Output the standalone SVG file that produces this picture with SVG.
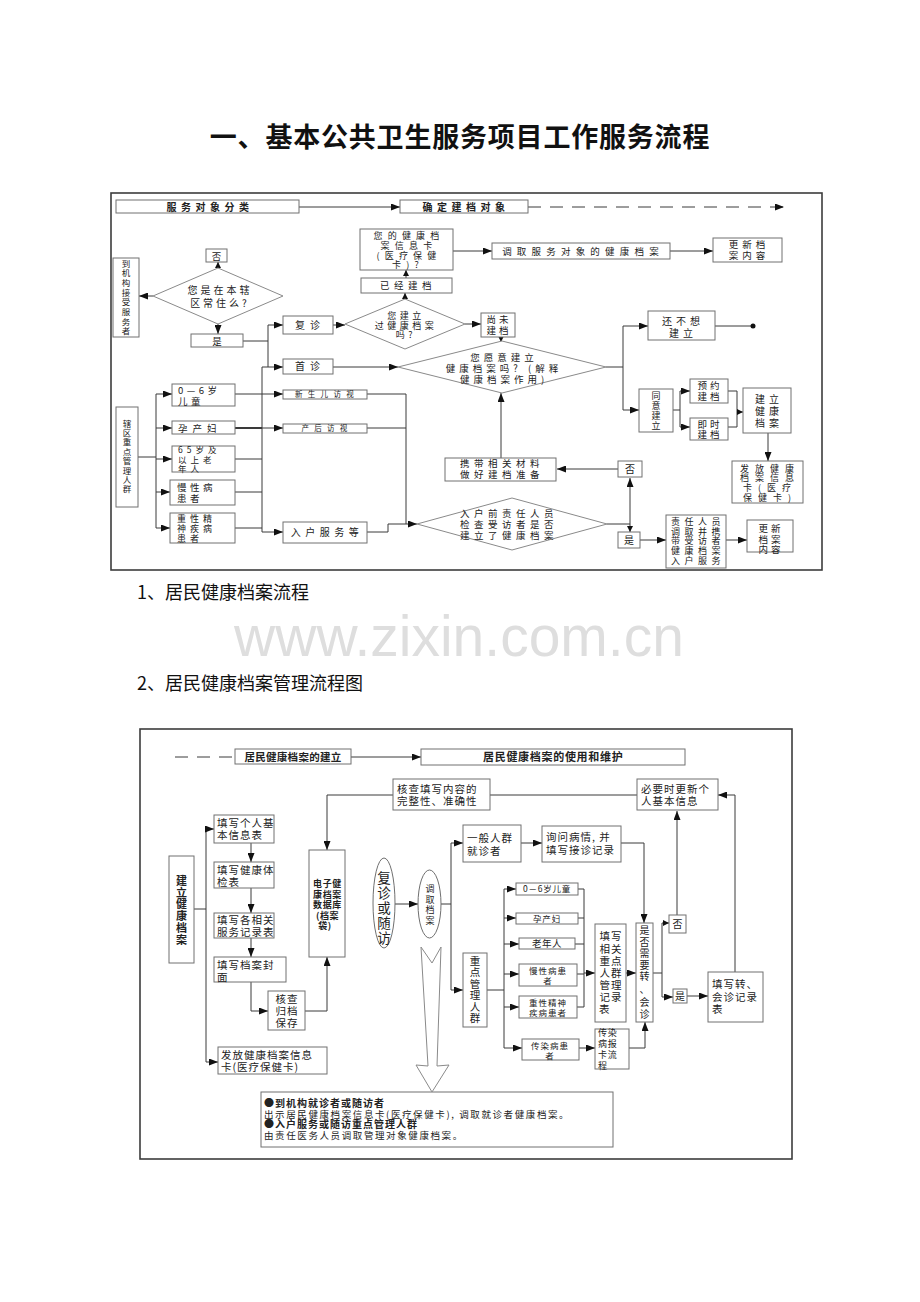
<svg xmlns="http://www.w3.org/2000/svg" width="920" height="1302" viewBox="0 0 920 1302">
<defs>
<style>
.box{fill:#fff;stroke:#707070;stroke-width:1}
.dia{fill:#fff;stroke:#8a8a8a;stroke-width:1}
.cn line,.cn polyline{stroke:#3a3a3a;stroke-width:1;fill:none}
.t{font-family:"Noto Sans CJK SC","Noto Sans",sans-serif;font-size:9.5px;fill:#222;letter-spacing:4.5px}
.c{text-anchor:middle}
.bd{font-weight:bold}
.s8{font-size:7.5px;letter-spacing:5.3px}
.u{font-size:10.5px;letter-spacing:1px}
.v{letter-spacing:0}
.frame{fill:none;stroke:#3c3c3c;stroke-width:1.6}
</style>
<marker id="ah" markerUnits="userSpaceOnUse" markerWidth="9" markerHeight="7" refX="9" refY="3.5" orient="auto"><path d="M0,0 L9,3.5 L0,7 z" fill="#111"/></marker>
<marker id="as" markerUnits="userSpaceOnUse" markerWidth="6" markerHeight="6" refX="6" refY="3" orient="auto"><path d="M0,0 L6,3 L0,6 z" fill="#111"/></marker>
</defs>
<rect width="920" height="1302" fill="#fff"/>

<text id="title" class="t c bd" x="460" y="147" style="font-size:27px;letter-spacing:0.8px;fill:#111">一、基本公共卫生服务项目工作服务流程</text>

<!-- ===== TOP DIAGRAM ===== -->
<rect class="frame" x="111" y="193" width="711" height="377"/>

<g id="connectors-top" class="cn">
<line x1="299" y1="207" x2="400" y2="207" marker-end="url(#ah)"/>
<line x1="528" y1="207" x2="784" y2="207" stroke-dasharray="13 9" marker-end="url(#ah)"/>
<line x1="153" y1="296" x2="139" y2="296" marker-end="url(#ah)"/>
<line x1="218" y1="268" x2="218" y2="262" marker-end="url(#as)"/>
<line x1="218" y1="324" x2="218" y2="334" marker-end="url(#ah)"/>
<line x1="243" y1="341" x2="268" y2="341"/>
<line x1="268" y1="325" x2="268" y2="367"/>
<line x1="268" y1="325" x2="283" y2="325" marker-end="url(#ah)"/>
<line x1="262" y1="367" x2="283" y2="367" marker-end="url(#ah)"/>
<line x1="262" y1="367" x2="262" y2="532"/>
<line x1="262" y1="532" x2="283" y2="532" marker-end="url(#ah)"/>
<line x1="333" y1="325" x2="345" y2="325" marker-end="url(#ah)"/>
<line x1="405" y1="299" x2="405" y2="293" marker-end="url(#as)"/>
<line x1="406" y1="278" x2="406" y2="270" marker-end="url(#as)"/>
<line x1="453" y1="251" x2="492" y2="251" marker-end="url(#ah)"/>
<line x1="670" y1="251" x2="713" y2="251" marker-end="url(#ah)"/>
<line x1="465" y1="324" x2="481" y2="324" marker-end="url(#ah)"/>
<line x1="501" y1="337" x2="501" y2="342" marker-end="url(#as)"/>
<line x1="333" y1="367" x2="398" y2="367" marker-end="url(#ah)"/>
<line x1="606" y1="367" x2="623" y2="367"/>
<line x1="623" y1="326" x2="623" y2="410"/>
<line x1="623" y1="326" x2="648" y2="326" marker-end="url(#ah)"/>
<line x1="623" y1="410" x2="639" y2="410" marker-end="url(#ah)"/>
<line x1="715" y1="326" x2="753" y2="326"/>
<line x1="673" y1="410" x2="680" y2="410"/>
<line x1="680" y1="391" x2="680" y2="427"/>
<line x1="680" y1="391" x2="690" y2="391" marker-end="url(#ah)"/>
<line x1="680" y1="427" x2="690" y2="427" marker-end="url(#ah)"/>
<line x1="728" y1="391" x2="737" y2="391"/>
<line x1="728" y1="427" x2="737" y2="427"/>
<line x1="737" y1="391" x2="737" y2="427"/>
<line x1="737" y1="412" x2="743" y2="412" marker-end="url(#as)"/>
<line x1="768" y1="433" x2="768" y2="461" marker-end="url(#ah)"/>
<line x1="138" y1="457" x2="156" y2="457"/>
<line x1="156" y1="394" x2="156" y2="528"/>
<line x1="156" y1="394" x2="172" y2="394" marker-end="url(#ah)"/>
<line x1="156" y1="428" x2="172" y2="428" marker-end="url(#ah)"/>
<line x1="156" y1="459" x2="172" y2="459" marker-end="url(#ah)"/>
<line x1="156" y1="492" x2="170" y2="492" marker-end="url(#ah)"/>
<line x1="156" y1="528" x2="170" y2="528" marker-end="url(#ah)"/>
<line x1="235" y1="394" x2="283" y2="394" marker-end="url(#ah)"/>
<line x1="235" y1="428" x2="262" y2="428" style="stroke-width:2"/>
<line x1="262" y1="428" x2="283" y2="428" marker-end="url(#ah)"/>
<line x1="235" y1="459" x2="262" y2="459"/>
<line x1="235" y1="492" x2="262" y2="492"/>
<line x1="235" y1="528" x2="262" y2="528"/>
<line x1="367" y1="394" x2="406" y2="394"/>
<line x1="367" y1="428" x2="406" y2="428"/>
<line x1="406" y1="394" x2="406" y2="524"/>
<polyline points="367,532 388,532 388,524"/>
<line x1="388" y1="524" x2="417" y2="524" marker-end="url(#ah)"/>
<line x1="607" y1="524" x2="630" y2="524"/>
<line x1="630" y1="524" x2="630" y2="478" marker-end="url(#ah)"/>
<line x1="630" y1="524" x2="630" y2="532" marker-end="url(#as)"/>
<line x1="618" y1="469" x2="557" y2="469" marker-end="url(#ah)"/>
<line x1="501" y1="458" x2="501" y2="393" marker-end="url(#ah)"/>
<line x1="640" y1="540" x2="666" y2="540" marker-end="url(#ah)"/>
<line x1="726" y1="540" x2="747" y2="540" marker-end="url(#ah)"/>
<circle cx="753" cy="326" r="2.5" fill="#111"/>
</g>

<g id="n-fwdxfl"><rect class="box" x="116" y="200" width="183" height="13"/><text class="t c bd" x="210" y="210.5" style="font-size:10px;letter-spacing:4.5px">服务对象分类</text></g>
<g id="n-qdjd"><rect class="box" x="400" y="200" width="128" height="13"/><text class="t c bd" x="466" y="210.5" style="font-size:10px;letter-spacing:4.5px">确定建档对象</text></g>

<g id="n-djg"><rect class="box" x="113" y="258" width="26" height="79"/>
<text class="t c v" x="126" y="266.5" style="font-size:8.5px"><tspan x="126">到</tspan><tspan x="126" dy="9.7">机</tspan><tspan x="126" dy="9.7">构</tspan><tspan x="126" dy="9.7">接</tspan><tspan x="126" dy="9.7">受</tspan><tspan x="126" dy="9.7">服</tspan><tspan x="126" dy="9.7">务</tspan><tspan x="126" dy="9.7">者</tspan></text></g>

<g id="n-czhu"><polygon class="dia" points="153,296 218,268 283,296 218,324"/>
<text class="t c" x="220" y="293.5" style="font-size:10px;letter-spacing:3px">您是在本辖</text><text class="t c" x="220" y="307" style="font-size:10px;letter-spacing:3px">区常住么?</text></g>
<g id="n-fou1"><rect class="box" x="206" y="249" width="21" height="13"/><text class="t c v" x="216.5" y="259.5">否</text></g>
<g id="n-shi1"><rect class="box" x="191" y="334" width="52" height="13"/><text class="t c v" x="217" y="344.5">是</text></g>

<g id="n-fz"><rect class="box" x="283" y="316" width="50" height="18"/><text class="t c" x="310" y="328.5" style="font-size:10px;letter-spacing:5px">复诊</text></g>
<g id="n-sz"><rect class="box" x="283" y="359" width="50" height="15"/><text class="t c" x="310" y="370" style="font-size:10px;letter-spacing:5px">首诊</text></g>

<g id="n-jlg"><polygon class="dia" points="345,324 405,299 465,324 405,349"/>
<text class="t c" x="406" y="318.5" style="font-size:9px;letter-spacing:3.5px">您建立</text><text class="t c" x="406" y="328.5" style="font-size:9px;letter-spacing:3.5px">过健康档案</text><text class="t c" x="406" y="338" style="font-size:9px;letter-spacing:3.5px">吗?</text></g>
<g id="n-yjjd"><rect class="box" x="361" y="278" width="91" height="15"/><text class="t c" x="408" y="289">已经建档</text></g>
<g id="n-xxk"><rect class="box" x="360" y="229" width="93" height="41"/>
<text class="t c" x="409" y="238.5" style="font-size:9px;letter-spacing:5.2px">您的健康档</text><text class="t c" x="409" y="248.5" style="font-size:9px;letter-spacing:5.2px">案信息卡</text><text class="t c" x="409" y="258.5" style="font-size:9px;letter-spacing:5.2px">(医疗保健</text><text class="t c" x="408" y="268" style="font-size:9px;letter-spacing:5.2px">卡)?</text></g>
<g id="n-dq"><rect class="box" x="492" y="243" width="178" height="16"/><text class="t c" x="583" y="254.5" style="letter-spacing:5.2px">调取服务对象的健康档案</text></g>
<g id="n-gx1"><rect class="box" x="713" y="238" width="69" height="24"/><text class="t c" x="749" y="248" style="font-size:9.5px;letter-spacing:4px">更新档</text><text class="t c" x="749" y="258.5" style="font-size:9.5px;letter-spacing:4px">案内容</text></g>
<g id="n-swjd"><rect class="box" x="481" y="313" width="34" height="24"/><text class="t c" x="499" y="323" style="letter-spacing:3px">尚未</text><text class="t c" x="499" y="334" style="letter-spacing:3px">建档</text></g>

<g id="n-yy"><polygon class="dia" points="398,367 502,341 606,367 502,393"/>
<text class="t c" x="504" y="360.5" style="letter-spacing:4px">您愿意建立</text><text class="t c" x="504" y="371.5" style="letter-spacing:4px">健康档案吗? (解释</text><text class="t c" x="504" y="382.5" style="letter-spacing:4px">健康档案作用)</text></g>
<g id="n-bx"><rect class="box" x="648" y="311" width="67" height="29"/><text class="t c" x="683" y="324.5" style="font-size:10px;letter-spacing:4px">还不想</text><text class="t c" x="683" y="336.5" style="font-size:10px;letter-spacing:4px">建立</text></g>
<g id="n-ty"><rect class="box" x="639" y="389" width="34" height="43"/>
<text class="t c v" x="656" y="399" style="font-size:9px"><tspan x="656">同</tspan><tspan x="656" dy="10">意</tspan><tspan x="656" dy="10">建</tspan><tspan x="656" dy="10">立</tspan></text></g>
<g id="n-yyjd"><rect class="box" x="690" y="379" width="38" height="24"/><text class="t c" x="710" y="389" style="letter-spacing:3px">预约</text><text class="t c" x="710" y="400" style="letter-spacing:3px">建档</text></g>
<g id="n-jsjd"><rect class="box" x="690" y="418" width="38" height="22"/><text class="t c" x="710" y="427.5" style="letter-spacing:3px">即时</text><text class="t c" x="710" y="438" style="letter-spacing:3px">建档</text></g>
<g id="n-jljk"><rect class="box" x="743" y="388" width="48" height="45"/><text class="t c" x="769" y="403" style="font-size:10px;letter-spacing:4px">建立</text><text class="t c" x="769" y="415" style="font-size:10px;letter-spacing:4px">健康</text><text class="t c" x="769" y="427" style="font-size:10px;letter-spacing:4px">档案</text></g>
<g id="n-ff1"><rect class="box" x="732" y="461" width="71" height="42"/>
<text class="t c" x="770" y="471.5" style="font-size:9px;letter-spacing:6px">发放健康</text><text class="t c" x="770" y="481" style="font-size:9px;letter-spacing:6px">档案信息</text><text class="t c" x="770" y="491" style="font-size:9px;letter-spacing:6px">卡(医疗</text><text class="t c" x="770" y="500.5" style="font-size:9px;letter-spacing:6px">保健卡)</text></g>

<g id="n-xq"><rect class="box" x="116" y="407" width="22" height="100"/>
<text class="t c v" x="127" y="426.5" style="font-size:8.5px"><tspan x="127">辖</tspan><tspan x="127" dy="9.4">区</tspan><tspan x="127" dy="9.4">重</tspan><tspan x="127" dy="9.4">点</tspan><tspan x="127" dy="9.4">管</tspan><tspan x="127" dy="9.4">理</tspan><tspan x="127" dy="9.4">人</tspan><tspan x="127" dy="9.4">群</tspan></text></g>
<g id="n-et"><rect class="box" x="172" y="384" width="63" height="22"/><text class="t" x="178" y="393.5" style="letter-spacing:3.5px">0—6岁</text><text class="t" x="178" y="404.5" style="letter-spacing:3.5px">儿童</text></g>
<g id="n-ycf"><rect class="box" x="172" y="421" width="63" height="13"/><text class="t" x="178" y="431.5" style="letter-spacing:5px">孕产妇</text></g>
<g id="n-lnr"><rect class="box" x="172" y="446" width="63" height="26"/><text class="t" x="178" y="453" style="font-size:8.5px;letter-spacing:4px">65岁及</text><text class="t" x="178" y="462.5" style="font-size:8.5px;letter-spacing:4px">以上老</text><text class="t" x="178" y="472" style="font-size:8.5px;letter-spacing:4px">年人</text></g>
<g id="n-mxb"><rect class="box" x="170" y="480" width="65" height="25"/><text class="t" x="177" y="490.5" style="letter-spacing:3.5px">慢性病</text><text class="t" x="177" y="501.5" style="letter-spacing:3.5px">患者</text></g>
<g id="n-zxj"><rect class="box" x="170" y="513" width="65" height="30"/><text class="t" x="177" y="521.5" style="font-size:9px;letter-spacing:4px">重性精</text><text class="t" x="177" y="531.5" style="font-size:9px;letter-spacing:4px">神疾病</text><text class="t" x="177" y="541.5" style="font-size:9px;letter-spacing:4px">患者</text></g>

<g id="n-xse"><rect class="box" x="283" y="390" width="84" height="9"/><text class="t c s8" x="327" y="397.3">新生儿访视</text></g>
<g id="n-chfs"><rect class="box" x="283" y="424" width="84" height="9"/><text class="t c s8" x="327" y="431.3">产后访视</text></g>
<g id="n-rh"><rect class="box" x="283" y="522" width="84" height="21"/><text class="t c" x="327" y="536" style="font-size:10px;letter-spacing:4.5px">入户服务等</text></g>

<g id="n-rhq"><polygon class="dia" points="417,524 512,498 607,524 512,550"/>
<text class="t c" x="509" y="516.5">入户前责任人员</text><text class="t c" x="509" y="527.5">检查受访者是否</text><text class="t c" x="509" y="538.5">建立了健康档案</text></g>
<g id="n-xd"><rect class="box" x="445" y="458" width="111" height="23"/><text class="t c" x="502" y="466.5">携带相关材料</text><text class="t c" x="502" y="477.5">做好建档准备</text></g>
<g id="n-fou2"><rect class="box" x="618" y="461" width="24" height="16"/><text class="t c v" x="630" y="472.5" style="font-size:10px">否</text></g>
<g id="n-shi2"><rect class="box" x="618" y="532" width="22" height="16"/><text class="t c v" x="629" y="543.5" style="font-size:10px">是</text></g>
<g id="n-zr"><rect class="box" x="666" y="515" width="60" height="53"/>
<text class="t c" x="698" y="525" style="font-size:9px;letter-spacing:4.5px">责任人员</text><text class="t c" x="698" y="534.7" style="font-size:9px;letter-spacing:4.5px">调取并携</text><text class="t c" x="698" y="544.4" style="font-size:9px;letter-spacing:4.5px">带受访者</text><text class="t c" x="698" y="554.1" style="font-size:9px;letter-spacing:4.5px">健康档案</text><text class="t c" x="698" y="563.8" style="font-size:9px;letter-spacing:4.5px">入户服务</text></g>
<g id="n-gx2"><rect class="box" x="747" y="520" width="46" height="32"/><text class="t c" x="771" y="531.5" style="letter-spacing:3px">更新</text><text class="t c" x="771" y="542.5" style="letter-spacing:3px">档案</text><text class="t c" x="771" y="553" style="letter-spacing:3px">内容</text></g>

<text id="cap1" class="t" x="137" y="598.5" style="font-size:18px;letter-spacing:0;fill:#111">1、居民健康档案流程</text>
<text id="watermark" x="459" y="656" text-anchor="middle" style="font-family:'Liberation Sans',Arial,sans-serif;font-size:57px;fill:#dedede">www.zixin.com.cn</text>
<text id="cap2" class="t" x="137" y="689.5" style="font-size:18px;letter-spacing:0;fill:#111">2、居民健康档案管理流程图</text>

<!-- ===== BOTTOM DIAGRAM ===== -->
<rect class="frame" x="140" y="729" width="652" height="430"/>

<g id="connectors-bottom" class="cn">
<line x1="175" y1="757" x2="235" y2="757" stroke-dasharray="13 9"/>
<line x1="351" y1="757" x2="421" y2="757" marker-end="url(#ah)"/>
<polyline points="393,795 327,795 327,850" marker-end="url(#ah)"/>
<line x1="490" y1="795" x2="637" y2="795"/>
<polyline points="735,972 735,795 718,795" marker-end="url(#ah)"/>
<line x1="687" y1="996" x2="708" y2="996" marker-end="url(#ah)"/>
<line x1="194" y1="909" x2="206" y2="909"/>
<line x1="206" y1="829" x2="206" y2="1062"/>
<line x1="206" y1="829" x2="214" y2="829" marker-end="url(#ah)"/>
<line x1="206" y1="1062" x2="218" y2="1062" marker-end="url(#ah)"/>
<line x1="251" y1="843" x2="251" y2="862" marker-end="url(#ah)"/>
<line x1="251" y1="888" x2="251" y2="913" marker-end="url(#ah)"/>
<line x1="251" y1="938" x2="251" y2="957" marker-end="url(#ah)"/>
<polyline points="251,982 251,1011 268,1011" marker-end="url(#ah)"/>
<polyline points="305,1011 327,1011 327,957" marker-end="url(#ah)"/>
<line x1="395" y1="904" x2="418" y2="904" marker-end="url(#ah)"/>
<line x1="441" y1="904" x2="451" y2="904"/>
<line x1="451" y1="843" x2="451" y2="990"/>
<line x1="451" y1="843" x2="463" y2="843" marker-end="url(#ah)"/>
<line x1="451" y1="990" x2="463" y2="990" marker-end="url(#ah)"/>
<line x1="521" y1="843" x2="542" y2="843" marker-end="url(#ah)"/>
<polyline points="621,843 644,843 644,923" marker-end="url(#ah)"/>
<line x1="653" y1="973" x2="662" y2="973"/>
<line x1="662" y1="923" x2="662" y2="997"/>
<line x1="662" y1="923" x2="669" y2="923" marker-end="url(#as)"/>
<line x1="662" y1="997" x2="673" y2="997" marker-end="url(#ah)"/>
<line x1="677" y1="915" x2="677" y2="811" marker-end="url(#ah)"/>
<line x1="487" y1="990" x2="504" y2="990"/>
<line x1="504" y1="889" x2="504" y2="1048"/>
<line x1="504" y1="889" x2="516" y2="889" marker-end="url(#ah)"/>
<line x1="504" y1="918" x2="516" y2="918" marker-end="url(#ah)"/>
<line x1="504" y1="944" x2="519" y2="944" marker-end="url(#ah)"/>
<line x1="504" y1="974" x2="519" y2="974" marker-end="url(#ah)"/>
<line x1="504" y1="1007" x2="519" y2="1007" marker-end="url(#ah)"/>
<line x1="504" y1="1048" x2="522" y2="1048" marker-end="url(#ah)"/>
<line x1="578" y1="889" x2="584" y2="889"/>
<line x1="578" y1="918" x2="584" y2="918"/>
<line x1="575" y1="944" x2="584" y2="944"/>
<line x1="577" y1="974" x2="584" y2="974"/>
<line x1="577" y1="1007" x2="584" y2="1007"/>
<line x1="584" y1="889" x2="584" y2="1007"/>
<line x1="584" y1="973" x2="595" y2="973" marker-end="url(#ah)"/>
<line x1="626" y1="973" x2="636" y2="973" marker-end="url(#ah)"/>
<line x1="579" y1="1048" x2="595" y2="1048" marker-end="url(#ah)"/>
<polyline points="629,1048 645,1048 645,1022" marker-end="url(#ah)"/>
</g>

<g id="n-jlhdr"><rect class="box" x="235" y="749" width="116" height="15"/><text class="t c bd" x="293" y="760.5" style="font-size:10.5px;letter-spacing:0.3px">居民健康档案的建立</text></g>
<g id="n-syhdr"><rect class="box" x="421" y="749" width="264" height="16"/><text class="t bd" x="483" y="761" style="font-size:11px;letter-spacing:0.7px">居民健康档案的使用和维护</text></g>
<g id="n-hc"><rect class="box" x="393" y="779" width="97" height="31"/><text class="t u" x="397" y="792.5">核查填写内容的</text><text class="t u" x="397" y="805">完整性、准确性</text></g>
<g id="n-byx"><rect class="box" x="637" y="779" width="81" height="31"/><text class="t u" x="641" y="792.5">必要时更新个</text><text class="t u" x="641" y="805">人基本信息</text></g>
<g id="n-txz"><rect class="box" x="708" y="972" width="55" height="50"/><text class="t u" x="712" y="988">填写转、</text><text class="t u" x="712" y="1000.5">会诊记录</text><text class="t u" x="712" y="1013">表</text></g>

<g id="n-jlda"><rect class="box" x="169" y="856" width="25" height="107"/>
<text class="t c bd v" x="181.5" y="885" style="font-size:11px"><tspan x="181.5">建</tspan><tspan x="181.5" dy="11.7">立</tspan><tspan x="181.5" dy="11.7">健</tspan><tspan x="181.5" dy="11.7">康</tspan><tspan x="181.5" dy="11.7">档</tspan><tspan x="181.5" dy="11.7">案</tspan></text></g>
<g id="n-grjb"><rect class="box" x="214" y="815" width="60" height="28"/><text class="t u" x="217" y="826.5">填写个人基</text><text class="t u" x="217" y="839">本信息表</text></g>
<g id="n-jktj"><rect class="box" x="214" y="862" width="60" height="26"/><text class="t u" x="217" y="874">填写健康体</text><text class="t u" x="217" y="885.5">检表</text></g>
<g id="n-gxg"><rect class="box" x="214" y="913" width="60" height="25"/><text class="t u" x="217" y="923.5">填写各相关</text><text class="t u" x="217" y="935.5">服务记录表</text></g>
<g id="n-dafm"><rect class="box" x="214" y="957" width="72" height="25"/><text class="t u" x="217" y="969">填写档案封</text><text class="t u" x="217" y="980.5">面</text></g>
<g id="n-hcgd"><rect class="box" x="268" y="991" width="37" height="39"/><text class="t c u" x="287" y="1003">核查</text><text class="t c u" x="287" y="1015">归档</text><text class="t c u" x="287" y="1026.5">保存</text></g>
<g id="n-dz"><rect class="box" x="309" y="850" width="36" height="107"/>
<text class="t c bd" x="327.5" y="886.5" style="font-size:9px;letter-spacing:0.6px">电子健</text><text class="t c bd" x="327.5" y="897.5" style="font-size:9px;letter-spacing:0.6px">康档案</text><text class="t c bd" x="327.5" y="908" style="font-size:9px;letter-spacing:0.6px">数据库</text><text class="t c bd" x="327.5" y="918.5" style="font-size:9px;letter-spacing:0.6px">(档案</text><text class="t c bd" x="325" y="929" style="font-size:9px;letter-spacing:0.6px">袋)</text></g>
<g id="n-ff2"><rect class="box" x="218" y="1047" width="109" height="27"/><text class="t u" x="221" y="1059">发放健康档案信息</text><text class="t u" x="221" y="1071">卡(医疗保健卡)</text></g>

<g id="n-info"><rect class="box" x="261" y="1092" width="352" height="55"/>
<text class="t bd" x="264" y="1106.5" style="font-size:10px;letter-spacing:1px">●到机构就诊者或随访者</text>
<text class="t" x="264" y="1117.5" style="font-size:9.5px;letter-spacing:1.6px">出示居民健康档案信息卡(医疗保健卡), 调取就诊者健康档案。</text>
<text class="t bd" x="264" y="1128" style="font-size:10px;letter-spacing:1px">●入户服务或随访重点管理人群</text>
<text class="t" x="264" y="1139" style="font-size:9.5px;letter-spacing:1.6px">由责任医务人员调取管理对象健康档案。</text></g>

<g id="n-fzsf"><ellipse cx="384" cy="903" rx="11" ry="45" fill="#fff" stroke="#707070"/>
<text class="t c v" x="384" y="883" style="font-size:13.5px"><tspan x="384">复</tspan><tspan x="384" dy="15">诊</tspan><tspan x="384" dy="15">或</tspan><tspan x="384" dy="15">随</tspan><tspan x="384" dy="15">访</tspan></text></g>
<g id="n-dqda"><ellipse cx="429.5" cy="904" rx="11.5" ry="34" fill="#fff" stroke="#707070"/>
<text class="t c v" x="430" y="892" style="font-size:9px"><tspan x="430">调</tspan><tspan x="430" dy="10.7">取</tspan><tspan x="430" dy="10.7">档</tspan><tspan x="430" dy="10.7">案</tspan></text></g>
<g id="n-bigarrow"><polygon points="421,947 432,963 441,947 437,1066 449,1065 432,1092 416,1065 428,1066" fill="#fff" stroke="#8a8a8a" stroke-width="1"/></g>

<g id="n-ybrq"><rect class="box" x="463" y="825" width="58" height="37"/><text class="t u" x="467" y="842">一般人群</text><text class="t u" x="467" y="854.5">就诊者</text></g>
<g id="n-xwbq"><rect class="box" x="542" y="826" width="79" height="36"/><text class="t u" x="546" y="840.5">询问病情, 并</text><text class="t u" x="546" y="853.5">填写接诊记录</text></g>
<g id="n-sfxy"><rect class="box" x="636" y="923" width="17" height="99"/>
<text class="t c v" x="644.5" y="934" style="font-size:10px"><tspan x="644.5">是</tspan><tspan x="644.5" dy="11.6">否</tspan><tspan x="644.5" dy="11.6">需</tspan><tspan x="644.5" dy="11.6">要</tspan><tspan x="644.5" dy="11.6">转</tspan><tspan x="644.5" dy="13">、</tspan><tspan x="644.5" dy="13">会</tspan><tspan x="644.5" dy="11.6">诊</tspan></text></g>
<g id="n-fou3"><rect class="box" x="669" y="915" width="17" height="18"/><text class="t c v" x="677.5" y="927.5" style="font-size:10px">否</text></g>
<g id="n-shi3"><rect class="box" x="673" y="989" width="14" height="14"/><text class="t c v" x="680" y="1000" style="font-size:10px">是</text></g>

<g id="n-zdgl"><rect class="box" x="463" y="953" width="24" height="74"/>
<text class="t c v" x="475" y="965" style="font-size:10.5px"><tspan x="475">重</tspan><tspan x="475" dy="11.4">点</tspan><tspan x="475" dy="11.4">管</tspan><tspan x="475" dy="11.4">理</tspan><tspan x="475" dy="11.4">人</tspan><tspan x="475" dy="11.4">群</tspan></text></g>
<g id="n-et2"><rect class="box" x="516" y="883" width="62" height="12"/><text class="t c" x="547" y="892.3" style="font-size:8.5px;letter-spacing:0.8px">0－6岁儿童</text></g>
<g id="n-ycf2"><rect class="box" x="516" y="913" width="62" height="11"/><text class="t c" x="547" y="921.8" style="font-size:8.5px;letter-spacing:0.8px">孕产妇</text></g>
<g id="n-lnr2"><rect class="box" x="519" y="938" width="56" height="11"/><text class="t c" x="547" y="947.3" style="font-size:9.5px;letter-spacing:0.5px">老年人</text></g>
<g id="n-mxb2"><rect class="box" x="519" y="964" width="58" height="22"/><text class="t c" x="548" y="973.5" style="font-size:8.5px;letter-spacing:1px">慢性病患</text><text class="t c" x="548" y="983.5" style="font-size:8.5px;letter-spacing:1px">者</text></g>
<g id="n-zxj2"><rect class="box" x="519" y="996" width="58" height="22"/><text class="t c" x="548" y="1005.5" style="font-size:8.5px;letter-spacing:1px">重性精神</text><text class="t c" x="548" y="1015.5" style="font-size:8.5px;letter-spacing:1px">疾病患者</text></g>
<g id="n-crb"><rect class="box" x="522" y="1039" width="57" height="21"/><text class="t c" x="550" y="1048.5" style="font-size:8.5px;letter-spacing:1px">传染病患</text><text class="t c" x="550" y="1058.5" style="font-size:8.5px;letter-spacing:1px">者</text></g>
<g id="n-txxg"><rect class="box" x="595" y="924" width="31" height="98"/>
<text class="t c u" x="611" y="940">填写</text><text class="t c u" x="611" y="952.5">相关</text><text class="t c u" x="611" y="964.5">重点</text><text class="t c u" x="611" y="976.5">人群</text><text class="t c u" x="611" y="988.5">管理</text><text class="t c u" x="611" y="1000.5">记录</text><text class="t u" x="599" y="1012.5">表</text></g>
<g id="n-crbk"><rect class="box" x="595" y="1029" width="34" height="40"/>
<text class="t" x="598" y="1036" style="font-size:9px;letter-spacing:0.8px">传染</text><text class="t" x="598" y="1047" style="font-size:9px;letter-spacing:0.8px">病报</text><text class="t" x="598" y="1058" style="font-size:9px;letter-spacing:0.8px">卡流</text><text class="t" x="598" y="1068.5" style="font-size:9px;letter-spacing:0.8px">程</text></g>
</svg>
